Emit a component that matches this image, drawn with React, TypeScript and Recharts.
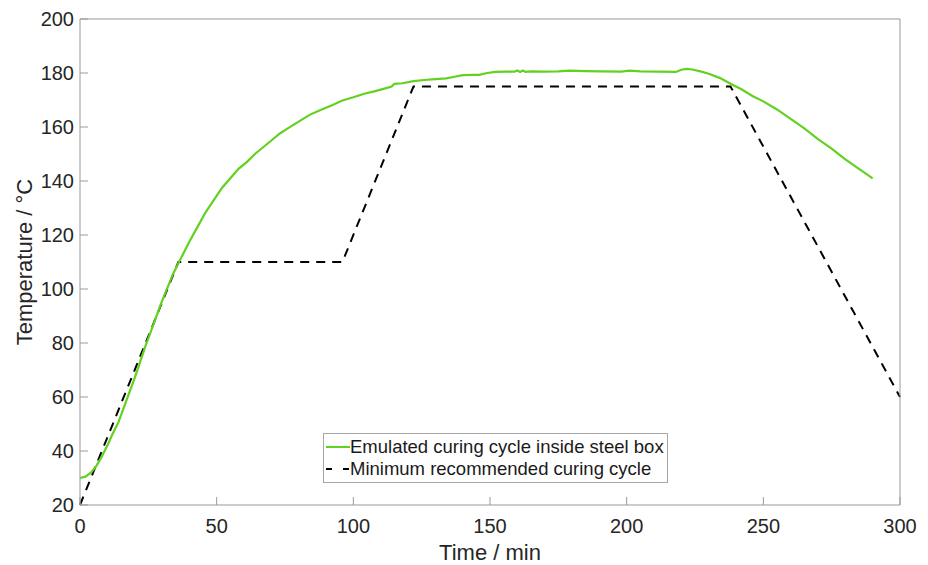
import { LineChart, Line, XAxis, YAxis, Legend } from 'recharts';

// time (min) and temperature (°C)
const emulatedTime = [
  0, 2, 4, 6, 8, 10, 12, 14, 16, 18, 20, 22, 24, 26, 28, 30, 32, 34, 36, 38, 40, 43, 46, 49, 52, 55,
  58, 61, 64, 67, 70, 73, 76, 80, 84, 88, 92, 96, 100, 104, 108, 112, 114, 115, 118, 122, 126, 130,
  134, 137, 140, 144, 146, 149, 152, 156, 159, 160, 161, 162, 163, 165, 170, 175, 179, 185, 190, 198,
  201, 205, 212, 218, 220, 222, 224, 227, 230, 234, 238, 242, 246, 250, 255, 260, 265, 270, 275, 280,
  285, 290,
];
const emulatedTemp = [
  30, 30.5, 32, 34.5, 38, 42, 46.5, 50.5, 56, 61.5, 67, 73, 79, 84.5, 90, 95.5, 100.5, 105.5, 109.5,
  113.5, 117.5, 123, 128.5, 133, 137.5, 141, 144.5, 147, 150, 152.5, 155, 157.5, 159.5, 162, 164.5,
  166.3, 168, 169.8, 171, 172.3, 173.3, 174.4, 175, 176, 176.2, 177, 177.4, 177.7, 178, 178.6, 179.2,
  179.3, 179.3, 180, 180.4, 180.5, 180.5, 180.9, 180.4, 180.9, 180.4, 180.6, 180.5, 180.6, 180.9,
  180.7, 180.6, 180.5, 180.9, 180.6, 180.5, 180.4, 181.2, 181.5, 181.3, 180.6, 179.7, 178.2, 176, 174,
  171.5, 169.5, 166.5, 163, 159.5, 155.5, 152, 148, 144.5, 141,
];

const recommendedTime = [0, 36, 96, 122, 238, 300];
const recommendedTemp = [20, 110, 110, 175, 175, 60];

const xTicks = [0, 50, 100, 150, 200, 250, 300];
const yTicks = [20, 40, 60, 80, 100, 120, 140, 160, 180, 200];

const emulated = emulatedTime.map((t, i) => ({ t, temp: emulatedTemp[i] }));
const recommended = recommendedTime.map((t, i) => ({ t, temp: recommendedTemp[i] }));

const FONT = '"Liberation Sans", Arial, Helvetica, sans-serif';
const AXIS = '#999999';
const TEXT = '#262626';
const GREEN = '#62d11f';

const BottomTick = (props: any) => {
  const { x, y, payload } = props;
  return (
    <g>
      <line x1={x} y1={y} x2={x} y2={y - 8} stroke={AXIS} />
      <text x={x} y={y + 28} textAnchor="middle" fill={TEXT} fontSize={20} fontFamily={FONT}>
        {payload.value}
      </text>
    </g>
  );
};

const LeftTick = (props: any) => {
  const { x, y, payload } = props;
  return (
    <g>
      <line x1={x} y1={y} x2={x + 8} y2={y} stroke={AXIS} />
      <text x={x - 6} y={y + 7} textAnchor="end" fill={TEXT} fontSize={20} fontFamily={FONT}>
        {payload.value}
      </text>
    </g>
  );
};

// the top and right axes sit 1px outside the plot, so the inward ticks start from there
const TopTick = (props: any) => (
  <line x1={props.x} y1={props.y} x2={props.x} y2={props.y + 8} stroke={AXIS} />
);

const RightTick = (props: any) => (
  <line x1={props.x} y1={props.y} x2={props.x - 8} y2={props.y} stroke={AXIS} />
);

const LegendBox = () => (
  <div
    style={{
      border: '1px solid #a6a6a6',
      background: '#fff',
      padding: '2px 3px 2px 2px',
      fontFamily: FONT,
      fontSize: 18.5,
      color: '#1a1a1a',
      lineHeight: '22px',
      whiteSpace: 'nowrap',
    }}
  >
    <div style={{ display: 'flex', alignItems: 'center' }}>
      <svg width={24} height={10}>
        <line x1={0} y1={5} x2={24} y2={5} stroke={GREEN} strokeWidth={2} />
      </svg>
      <span>Emulated curing cycle inside steel box</span>
    </div>
    <div style={{ display: 'flex', alignItems: 'center' }}>
      <svg width={24} height={10}>
        <line x1={0} y1={5} x2={24} y2={5} stroke="#000" strokeWidth={2} strokeDasharray="6 11" />
      </svg>
      <span>Minimum recommended curing cycle</span>
    </div>
  </div>
);

export default function App() {
  return (
    <div style={{ position: 'absolute', left: 0, top: 0, background: '#fff' }}>
      <LineChart width={928} height={565} margin={{ top: 18, right: 27, left: 0, bottom: 0 }}>
        <XAxis
          dataKey="t"
          type="number"
          domain={[0, 300]}
          ticks={xTicks}
          height={60}
          stroke={AXIS}
          tickLine={false}
          tickSize={0}
          tickMargin={0}
          tick={<BottomTick />}
          label={{
            value: 'Time / min',
            position: 'insideBottom',
            offset: 5,
            fill: TEXT,
            fontSize: 22,
            fontFamily: FONT,
          }}
        />
        <XAxis
          xAxisId="top"
          orientation="top"
          type="number"
          domain={[0, 300]}
          ticks={xTicks}
          height={1}
          stroke={AXIS}
          tickLine={false}
          tickSize={0}
          tickMargin={0}
          tick={<TopTick />}
        />
        <YAxis
          type="number"
          domain={[20, 200]}
          ticks={yTicks}
          width={80}
          stroke={AXIS}
          tickLine={false}
          tickSize={0}
          tickMargin={0}
          tick={<LeftTick />}
          label={{
            value: 'Temperature / °C',
            angle: -90,
            position: 'insideLeft',
            offset: 0,
            dx: 24,
            fill: TEXT,
            fontSize: 22,
            fontFamily: FONT,
            style: { textAnchor: 'middle' },
          }}
        />
        <YAxis
          yAxisId="right"
          orientation="right"
          type="number"
          domain={[20, 200]}
          ticks={yTicks}
          width={1}
          stroke={AXIS}
          tickLine={false}
          tickSize={0}
          tickMargin={0}
          tick={<RightTick />}
        />
        <Legend
          layout="horizontal"
          verticalAlign="middle"
          align="center"
          content={<LegendBox />}
          wrapperStyle={{ left: 323, top: 433, width: 'auto' }}
        />
        <Line
          data={recommended}
          dataKey="temp"
          type="linear"
          stroke="#000"
          strokeWidth={2}
          strokeDasharray="9 7"
          dot={false}
          isAnimationActive={false}
        />
        <Line
          data={emulated}
          dataKey="temp"
          type="linear"
          stroke={GREEN}
          strokeWidth={2.2}
          dot={false}
          isAnimationActive={false}
        />
      </LineChart>
    </div>
  );
}
